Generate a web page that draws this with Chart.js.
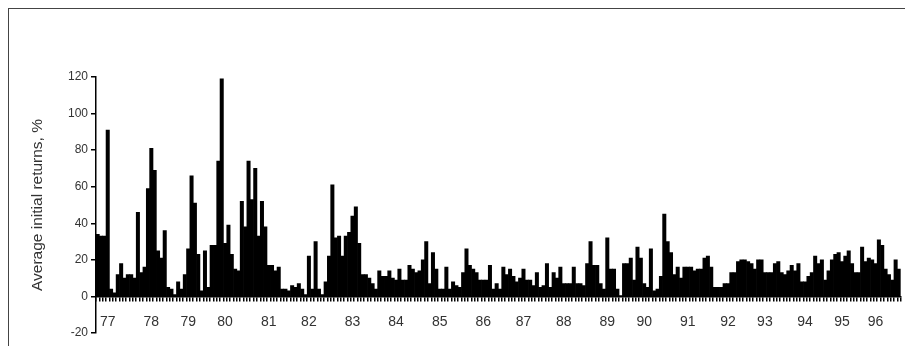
<!DOCTYPE html>
<html>
<head>
<meta charset="utf-8">
<script src="https://cdn.jsdelivr.net/npm/chart.js@4"></script>
<style>
  html, body { margin: 0; padding: 0; background: #fff; overflow: hidden; width: 905px; height: 346px; }
  #wrap { position: relative; width: 905px; height: 346px; overflow: hidden; }
  #frame { position: absolute; left: 8px; top: 8px; width: 1200px; height: 1200px; border: 1.5px solid #444; box-sizing: border-box; pointer-events: none; }
  canvas { position: absolute; left: 0; top: 0; }
</style>
</head>
<body>
<div id="wrap">
  <div id="frame"></div>
  <canvas id="c" width="912" height="346" style="width:912px;height:346px"></canvas>
</div>
<script>
// Years covered (two-digit labels) and months
const years = ['77','78','79','80','81','82','83','84','85','86','87','88','89','90','91','92','93','94','95','96'];
const months = ['01','02','03','04','05','06','07','08','09','10','11','12'];
// Month (0-based) under which each year's label is printed
const labelMonth = [3,4,3,2,3,3,4,5,6,7,7,7,8,7,8,8,7,7,6,4];

// Monthly average initial returns, %
const avgReturns = [
  34, 33, 33, 91, 4, 2, 12, 18, 10, 12, 12, 10,      // 1977
  46, 13, 16, 59, 81, 69, 25, 21, 36, 5, 4, 1,       // 1978
  8, 4, 12, 26, 66, 51, 23, 3, 25, 5, 28, 28,        // 1979
  74, 119, 29, 39, 23, 15, 14, 52, 38, 74, 53, 70,   // 1980
  33, 52, 38, 17, 17, 14, 16, 4, 4, 3, 6, 5,         // 1981
  7, 4, 1, 22, 4, 30, 4, 1, 8, 22, 61, 32,           // 1982
  33, 22, 33, 35, 44, 49, 29, 12, 12, 10, 7, 4,      // 1983
  14, 11, 11, 14, 10, 9, 15, 9, 9, 17, 15, 13,       // 1984
  14, 20, 30, 7, 24, 15, 4, 4, 16, 4, 8, 6,          // 1985
  5, 13, 26, 17, 15, 13, 9, 9, 9, 17, 4, 7,          // 1986
  4, 16, 12, 15, 11, 8, 10, 15, 9, 9, 6, 13,         // 1987
  5, 6, 18, 5, 13, 10, 16, 7, 7, 7, 16, 7,           // 1988
  7, 6, 18, 30, 17, 17, 7, 4, 32, 15, 15, 4,         // 1989
  0.5, 18, 18, 21, 9, 27, 21, 7, 5, 26, 3, 4,        // 1990
  11, 45, 30, 24, 12, 16, 10, 16, 16, 16, 14, 15,    // 1991
  15, 21, 22, 16, 5, 5, 5, 7, 7, 13, 13, 19,         // 1992
  20, 20, 19, 18, 15, 20, 20, 13, 13, 13, 18, 19,    // 1993
  13, 12, 14, 17, 14, 18, 8, 8, 11, 13, 22, 18,      // 1994
  20, 9, 14, 20, 23, 24, 19, 22, 25, 18, 13, 13,     // 1995
  27, 19, 21, 20, 18, 31, 28, 15, 12, 9, 20, 15      // 1996
];

const yTicks = { min: -20, max: 120, step: 20 };
const yTitle = 'Average initial returns, %';

// Build categories and per-category tick text
const categories = [];
const tickText = [];
years.forEach((y, yi) => {
  months.forEach((m, mi) => {
    categories.push(y + '-' + m);
    tickText.push(mi === labelMonth[yi] ? y : '');
  });
});

new Chart(document.getElementById('c'), {
  type: 'bar',
  data: {
    labels: categories,
    datasets: [{
      data: avgReturns,
      backgroundColor: '#000',
      borderColor: '#000',
      borderWidth: 0,
      barPercentage: 1.0,
      categoryPercentage: 1.0
    }]
  },
  options: {
    responsive: false,
    animation: false,
    events: [],
    layout: { padding: { left: 0, top: 77, right: 2, bottom: 13 } },
    plugins: { legend: { display: false }, tooltip: { enabled: false } },
    scales: {
      x: {
        type: 'category',
        position: { y: 0 },
        afterFit: (s) => { s.height = 0; },
        grid: { display: true, drawOnChartArea: false, drawTicks: true, tickLength: 4, color: '#000', lineWidth: 1.5, offset: true },
        border: { display: true, color: '#000', width: 1.5 },
        ticks: {
          autoSkip: false, maxRotation: 0, minRotation: 0, padding: 13,
          color: '#333',
          font: { family: 'Liberation Sans, Arial, sans-serif', size: 14 },
          callback: (v, i) => tickText[i]
        }
      },
      y: {
        min: yTicks.min, max: yTicks.max,
        afterFit: (s) => { s.width = 96; },
        grid: { display: true, drawOnChartArea: false, drawTicks: true, tickLength: 5, color: '#000', lineWidth: 1.5 },
        border: { display: true, color: '#000', width: 1.5 },
        ticks: {
          stepSize: yTicks.step, padding: 3, color: '#333',
          font: { family: 'Liberation Sans, Arial, sans-serif', size: 12 }
        },
        title: {
          display: true, text: yTitle, color: '#333',
          font: { family: 'Liberation Sans, Arial, sans-serif', size: 15.5 },
          padding: { top: 28, bottom: 0 }
        }
      }
    }
  }
});
</script>
</body>
</html>
